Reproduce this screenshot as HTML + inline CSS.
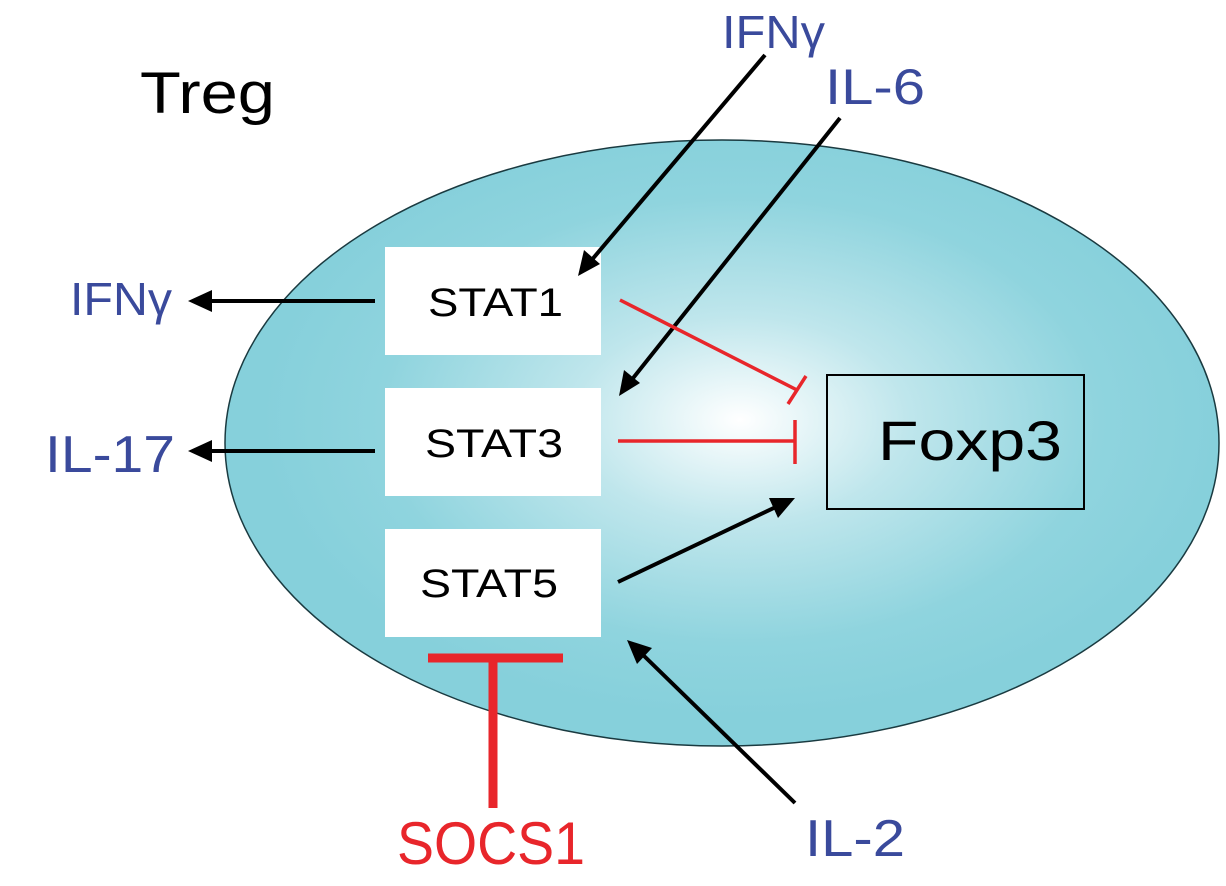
<!DOCTYPE html>
<html><head><meta charset="utf-8"><style>
html,body{margin:0;padding:0;background:#fff;}
svg{display:block;}
text{font-family:"Liberation Sans",sans-serif;}
</style></head><body>
<svg width="1226" height="886" viewBox="0 0 1226 886" xmlns="http://www.w3.org/2000/svg">
<defs>
<radialGradient id="g" cx="740" cy="420" r="480" gradientUnits="userSpaceOnUse" gradientTransform="translate(740 420) scale(1 0.62) translate(-740 -420)">
<stop offset="0" stop-color="#ffffff"/>
<stop offset="0.35" stop-color="#bfe6ec"/>
<stop offset="0.75" stop-color="#8fd4de"/>
<stop offset="1" stop-color="#86d0db"/>
</radialGradient>
</defs>
<ellipse cx="722" cy="443" rx="497" ry="303" fill="url(#g)" stroke="#1a3a40" stroke-width="1.5"/>
<rect x="385" y="247" width="216" height="108" fill="#fff"/>
<rect x="385" y="388" width="216" height="108" fill="#fff"/>
<rect x="385" y="529" width="216" height="108" fill="#fff"/>
<rect x="827" y="375" width="257" height="134" fill="none" stroke="#000" stroke-width="2"/>
<text x="428" y="316" font-size="40" textLength="135" lengthAdjust="spacingAndGlyphs" fill="#000">STAT1</text>
<text x="425" y="457" font-size="40" textLength="138" lengthAdjust="spacingAndGlyphs" fill="#000">STAT3</text>
<text x="420" y="597" font-size="40" textLength="138" lengthAdjust="spacingAndGlyphs" fill="#000">STAT5</text>
<text x="878" y="460" font-size="56" textLength="184" lengthAdjust="spacingAndGlyphs" fill="#000">Foxp3</text>
<text x="140" y="113" font-size="58" textLength="135" lengthAdjust="spacingAndGlyphs" fill="#000">Treg</text>
<text x="722" y="48" font-size="46" textLength="103" lengthAdjust="spacingAndGlyphs" fill="#3a4a9c">IFNγ</text>
<text x="825" y="104" font-size="50" textLength="100" lengthAdjust="spacingAndGlyphs" fill="#3a4a9c">IL-6</text>
<text x="70" y="315" font-size="46" textLength="102" lengthAdjust="spacingAndGlyphs" fill="#3a4a9c">IFNγ</text>
<text x="45" y="472" font-size="52" textLength="130" lengthAdjust="spacingAndGlyphs" fill="#3a4a9c">IL-17</text>
<text x="805" y="856" font-size="52" textLength="100" lengthAdjust="spacingAndGlyphs" fill="#3a4a9c">IL-2</text>
<text x="397" y="864" font-size="60" textLength="188" lengthAdjust="spacingAndGlyphs" fill="#e8262b">SOCS1</text>
<g stroke="#000" stroke-width="4" fill="none">
<line x1="765" y1="55" x2="590" y2="262"/>
<line x1="840" y1="118" x2="630" y2="382"/>
<line x1="375" y1="301" x2="205" y2="301"/>
<line x1="375" y1="451" x2="205" y2="451"/>
<line x1="618" y1="582" x2="780" y2="505"/>
<line x1="795" y1="803" x2="640" y2="652"/>
</g>
<g fill="#000">
<polygon points="578,276 584,250 600,264"/>
<polygon points="619,396 624,370 640,383"/>
<polygon points="188,301 212,290 212,312"/>
<polygon points="188,451 212,440 212,462"/>
<polygon points="795,498 778,518 769,498"/>
<polygon points="627,640 652,648 637,664"/>
</g>
<g stroke="#e8262b" stroke-width="3.5" fill="none">
<line x1="620" y1="300" x2="797" y2="390"/>
<line x1="788" y1="404" x2="806" y2="376"/>
<line x1="618" y1="441" x2="795" y2="441"/>
<line x1="795" y1="420" x2="795" y2="464"/>
</g>
<g stroke="#e8262b" stroke-width="9" fill="none">
<line x1="428" y1="658" x2="563" y2="658"/>
<line x1="493" y1="658" x2="493" y2="808"/>
</g>
</svg>
</body></html>
